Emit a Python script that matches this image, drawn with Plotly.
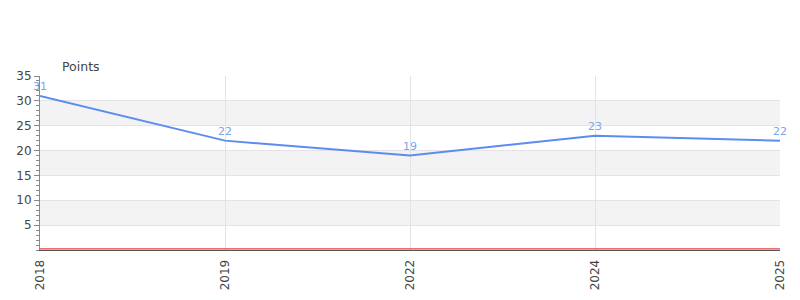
import plotly.graph_objects as go

years = ["2018", "2019", "2022", "2024", "2025"]
points = [31, 22, 19, 23, 22]
y_ticks = [5, 10, 15, 20, 25, 30, 35]
bands = [(5, 10), (15, 20), (25, 30)]

fig = go.Figure()
fig.add_trace(go.Scatter(
    x=years, y=points, mode="lines",
    line=dict(color="#5b8def", width=2),
    cliponaxis=False, showlegend=False,
))

annotations = [dict(x=i, y=yv, text=str(yv), xref="x", yref="y", showarrow=False,
                    yanchor="bottom", yshift=1,
                    font=dict(color="#7ba3ee", size=11, family="DejaVu Sans"))
               for i, yv in enumerate(points)]
annotations.append(dict(text="Points", xref="paper", yref="paper", x=0.03, y=1.0,
                        xanchor="left", yanchor="bottom", yshift=0, xshift=-2, showarrow=False,
                        font=dict(size=12.5, color="#444")))

shapes = []
for lo, hi in bands:
    shapes.append(dict(type="rect", xref="paper", yref="y", x0=0, x1=1, y0=lo, y1=hi,
                       fillcolor="#f3f3f3", line=dict(width=0), layer="below"))
shapes.append(dict(type="line", xref="paper", yref="y", x0=0, x1=1, y0=0.22, y1=0.22,
                   line=dict(color="#e01010", width=1), layer="above"))

fig.update_layout(
    width=800, height=300,
    margin=dict(l=40, r=20, t=76, b=50, autoexpand=False),
    paper_bgcolor="white", plot_bgcolor="white",
    font=dict(family="DejaVu Sans", size=11, color="#444"),
    shapes=shapes,
    annotations=annotations,
    xaxis=dict(type="category", range=[0, 4], showgrid=True, gridcolor="#e3e3e3",
               tickangle=-90, ticks="", showline=True, linecolor="#555", linewidth=1,
               ticklabelstandoff=4, automargin=False,
               tickfont=dict(size=12, color="#444"), zeroline=False),
    yaxis=dict(range=[0, 35], tickvals=y_ticks, showgrid=True, gridcolor="#e3e3e3",
               ticks="outside", ticklen=5, tickcolor="#888", showline=True,
               linecolor="#888", linewidth=1, zeroline=False, automargin=False,
               minor=dict(dtick=1, ticks="outside", ticklen=3, tickcolor="#888", showgrid=False),
               tickfont=dict(size=12, color="#444")),
)

fig.write_html("out.html")
